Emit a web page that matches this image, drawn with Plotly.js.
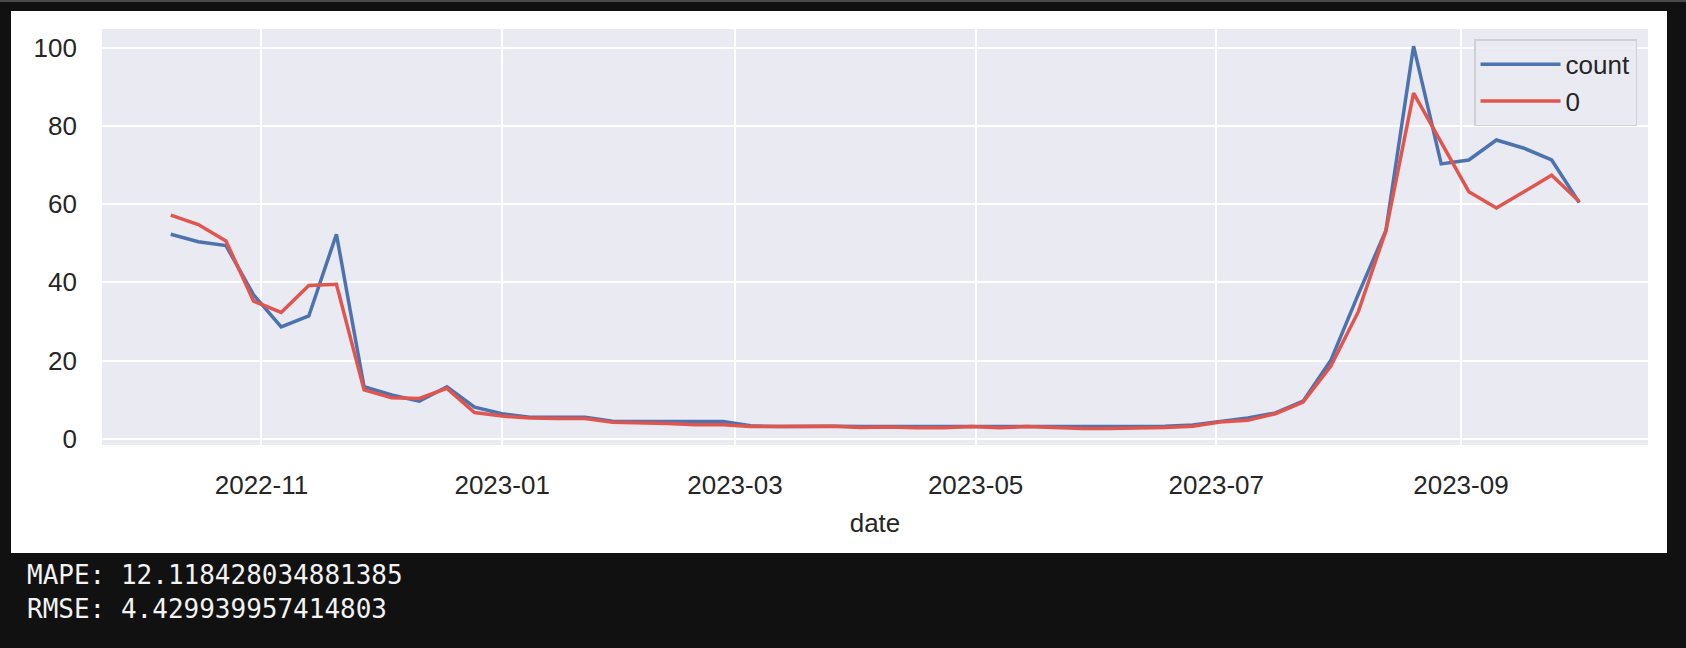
<!DOCTYPE html>
<html>
<head>
<meta charset="utf-8">
<script src="https://cdn.plot.ly/plotly-3.0.1.min.js"></script>
<style>
  html, body { margin: 0; padding: 0; background: #111111; width: 1686px; height: 648px; overflow: hidden; }
  #topline { position: absolute; left: 0; top: 0; width: 1686px; height: 2px; background: #4a4a4a; }
  #chart { position: absolute; left: 11px; top: 11px; width: 1656px; height: 542px; background: #ffffff; }
  #out { position: absolute; left: 27px; top: 558px; margin: 0; color: #f2f2f2;
         font-family: "DejaVu Sans Mono", "Liberation Mono", monospace; font-size: 26px; line-height: 34px; }
</style>
</head>
<body>
<div id="topline"></div>
<div id="chart"></div>
<pre id="out"></pre>
<script>
const dates = [
  "2022-10-09","2022-10-16","2022-10-23","2022-10-30","2022-11-06","2022-11-13","2022-11-20","2022-11-27",
  "2022-12-04","2022-12-11","2022-12-18","2022-12-25","2023-01-01","2023-01-08","2023-01-15","2023-01-22",
  "2023-01-29","2023-02-05","2023-02-12","2023-02-19","2023-02-26","2023-03-05","2023-03-12","2023-03-19",
  "2023-03-26","2023-04-02","2023-04-09","2023-04-16","2023-04-23","2023-04-30","2023-05-07","2023-05-14",
  "2023-05-21","2023-05-28","2023-06-04","2023-06-11","2023-06-18","2023-06-25","2023-07-02","2023-07-09",
  "2023-07-16","2023-07-23","2023-07-30","2023-08-06","2023-08-13","2023-08-20","2023-08-27","2023-09-03",
  "2023-09-10","2023-09-17","2023-09-24","2023-10-01"
];
const countValues = [
  52.3, 50.4, 49.4, 36.8, 28.6, 31.4, 52.3, 13.3,
  11.2, 9.6, 13.3, 8.1, 6.4, 5.5, 5.5, 5.5,
  4.5, 4.4, 4.3, 4.4, 4.4, 3.3, 3.1, 3.2,
  3.2, 3.1, 3.1, 3.0, 3.2, 3.2, 3.2, 3.2,
  3.2, 3.2, 3.2, 3.2, 3.2, 3.5, 4.5, 5.3,
  6.6, 9.6, 20.0, 37.0, 53.3, 100.4, 70.3, 71.3,
  76.4, 74.3, 71.3, 60.4
];
const predValues = [
  57.2, 54.8, 50.6, 35.2, 32.3, 39.2, 39.5, 12.5,
  10.5, 10.3, 12.9, 6.7, 5.8, 5.3, 5.2, 5.2,
  4.2, 4.1, 3.9, 3.6, 3.6, 3.1, 3.1, 3.2,
  3.2, 2.9, 3.0, 2.8, 2.8, 3.1, 2.8, 3.1,
  2.8, 2.6, 2.6, 2.7, 2.9, 3.2, 4.3, 4.7,
  6.4, 9.4, 18.5, 32.5, 53.2, 88.4, 76.0, 63.2,
  59.0, 63.2, 67.4, 60.7
];
const seriesNames = ["count", "0"];
const xTickVals = ["2022-11-01","2023-01-01","2023-03-01","2023-05-01","2023-07-01","2023-09-01"];
const xTickText = ["2022-11","2023-01","2023-03","2023-05","2023-07","2023-09"];
const yTickVals = [0, 20, 40, 60, 80, 100];
const metricLines = ["MAPE: 12.118428034881385", "RMSE: 4.429939957414803"];

document.getElementById("out").textContent = metricLines.join("\n");

const txt = "#262626";
const fnt = 'Arial, "Liberation Sans", Helvetica, sans-serif';

const traces = [
  { x: dates, y: countValues, name: seriesNames[0], type: "scatter", mode: "lines",
    line: { color: "#4C72B0", width: 3.5 } },
  { x: dates, y: predValues, name: seriesNames[1], type: "scatter", mode: "lines",
    line: { color: "#E0564E", width: 3.5 } }
];

const layout = {
  width: 1656, height: 542,
  margin: { l: 91, r: 19, t: 18, b: 108, pad: 0 },
  paper_bgcolor: "#ffffff",
  plot_bgcolor: "#EAEAF2",
  font: { family: fnt, size: 26, color: txt },
  showlegend: true,
  legend: {
    x: 0.9929, xanchor: "right", y: 0.975, yanchor: "top",
    bgcolor: "rgba(234,234,242,0.85)", bordercolor: "#CFCFD6", borderwidth: 1.5,
    font: { family: fnt, size: 26, color: txt },
    itemwidth: 80
  },
  xaxis: {
    type: "date",
    range: ["2022-09-21 14:00", "2023-10-18 10:00"],
    tickvals: xTickVals, ticktext: xTickText,
    showgrid: true, gridcolor: "#ffffff", gridwidth: 2,
    zeroline: false, showline: false, ticks: "",
    ticklabelstandoff: 22,
    tickfont: { family: fnt, size: 26, color: txt },
    title: { text: "date", font: { family: fnt, size: 26, color: txt }, standoff: 14 },
    automargin: false
  },
  yaxis: {
    range: [-1.6, 104.8],
    tickvals: yTickVals,
    showgrid: true, gridcolor: "#ffffff", gridwidth: 2,
    zeroline: false, showline: false, ticks: "",
    ticklabelstandoff: 24,
    tickfont: { family: fnt, size: 26, color: txt },
    automargin: false
  }
};

Plotly.newPlot("chart", traces, layout, { displayModeBar: false, staticPlot: true });
</script>
</body>
</html>
